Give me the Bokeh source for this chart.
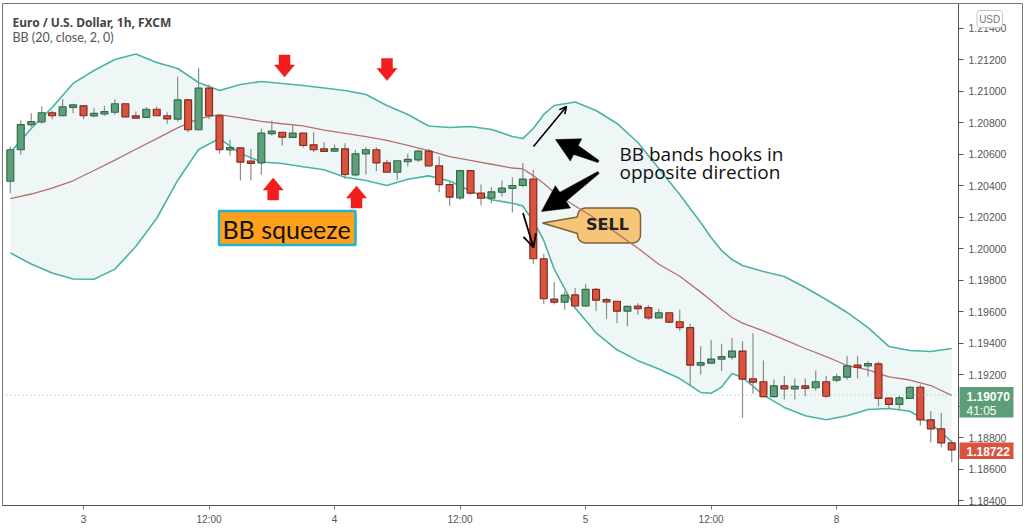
import numpy as np
from bokeh.plotting import figure
from bokeh.models import (Range1d, FixedTicker, PrintfTickFormatter, Label,
                          Arrow, OpenHead, ColumnDataSource)
from bokeh.embed import file_html
from bokeh.resources import INLINE

# ---------------- data (EUR/USD 1h candles) ----------------
opens = [1.20427, 1.20627, 1.20787, 1.20804, 1.20862, 1.20843, 1.20900, 1.20906, 1.20843, 1.20855,
         1.20865, 1.20919, 1.20838, 1.20832, 1.20884, 1.20843, 1.20821, 1.20944, 1.20754, 1.21018,
         1.20843, 1.20627, 1.20639, 1.20552, 1.20544, 1.20732, 1.20738, 1.20705, 1.20732, 1.20658,
         1.20627, 1.20622, 1.20633, 1.20468, 1.20601, 1.20627, 1.20544, 1.20484, 1.20554, 1.20563,
         1.20618, 1.20525, 1.20406, 1.20322, 1.20495, 1.20351, 1.20319, 1.20357, 1.20381, 1.20400,
         1.20440, 1.19935, 1.19678, 1.19659, 1.19705, 1.19635, 1.19740, 1.19672, 1.19665, 1.19602,
         1.19632, 1.19624, 1.19560, 1.19592, 1.19535, 1.19497, 1.19259, 1.19272, 1.19298, 1.19310,
         1.19349, 1.19173, 1.19154, 1.19060, 1.19128, 1.19109, 1.19124, 1.19116, 1.19154, 1.19164,
         1.19183, 1.19255, 1.19255, 1.19268, 1.19050, 1.19010, 1.19048, 1.19119, 1.18912, 1.18855,
         1.18766]
highs = [1.20648, 1.20813, 1.20859, 1.20902, 1.20876, 1.20950, 1.20919, 1.20908, 1.20893, 1.20906,
         1.20948, 1.20923, 1.20870, 1.20897, 1.20902, 1.20865, 1.21092, 1.20950, 1.21147, 1.21041,
         1.20855, 1.20690, 1.20641, 1.20633, 1.20760, 1.20813, 1.20740, 1.20785, 1.20734, 1.20738,
         1.20675, 1.20660, 1.20669, 1.20627, 1.20643, 1.20643, 1.20563, 1.20559, 1.20601, 1.20627,
         1.20633, 1.20584, 1.20421, 1.20497, 1.20497, 1.20406, 1.20389, 1.20432, 1.20453, 1.20542,
         1.20500, 1.19966, 1.19787, 1.19729, 1.19750, 1.19776, 1.19750, 1.19687, 1.19667, 1.19638,
         1.19653, 1.19640, 1.19617, 1.19594, 1.19611, 1.19522, 1.19380, 1.19419, 1.19395, 1.19432,
         1.19411, 1.19462, 1.19289, 1.19168, 1.19192, 1.19175, 1.19175, 1.19225, 1.19192, 1.19204,
         1.19319, 1.19319, 1.19284, 1.19283, 1.19056, 1.19067, 1.19127, 1.19137, 1.18967, 1.18957,
         1.18781]
lows = [1.20351, 1.20595, 1.20770, 1.20792, 1.20821, 1.20840, 1.20859, 1.20821, 1.20834, 1.20843,
        1.20849, 1.20834, 1.20830, 1.20830, 1.20841, 1.20792, 1.20806, 1.20738, 1.20750, 1.20821,
        1.20601, 1.20590, 1.20432, 1.20432, 1.20468, 1.20717, 1.20654, 1.20703, 1.20641, 1.20611,
        1.20620, 1.20611, 1.20443, 1.20457, 1.20470, 1.20491, 1.20482, 1.20436, 1.20521, 1.20550,
        1.20521, 1.20357, 1.20271, 1.20309, 1.20343, 1.20273, 1.20288, 1.20330, 1.20229, 1.20389,
        1.19903, 1.19649, 1.19644, 1.19611, 1.19629, 1.19629, 1.19603, 1.19554, 1.19526, 1.19507,
        1.19579, 1.19547, 1.19558, 1.19527, 1.19476, 1.19130, 1.19200, 1.19268, 1.19222, 1.19293,
        1.18925, 1.19077, 1.19056, 1.19056, 1.19041, 1.19041, 1.19062, 1.19098, 1.19052, 1.19151,
        1.19166, 1.19175, 1.19187, 1.18997, 1.18982, 1.18980, 1.19046, 1.18876, 1.18770, 1.18738,
        1.18643]
closes = [1.20627, 1.20787, 1.20806, 1.20862, 1.20843, 1.20900, 1.20908, 1.20843, 1.20857, 1.20868,
          1.20919, 1.20836, 1.20832, 1.20884, 1.20843, 1.20823, 1.20944, 1.20754, 1.21018, 1.20843,
          1.20627, 1.20639, 1.20548, 1.20544, 1.20732, 1.20743, 1.20707, 1.20732, 1.20654, 1.20627,
          1.20622, 1.20630, 1.20470, 1.20601, 1.20627, 1.20544, 1.20484, 1.20557, 1.20563, 1.20618,
          1.20525, 1.20406, 1.20326, 1.20495, 1.20351, 1.20319, 1.20360, 1.20383, 1.20400, 1.20440,
          1.19935, 1.19681, 1.19659, 1.19704, 1.19635, 1.19740, 1.19672, 1.19664, 1.19602, 1.19632,
          1.19621, 1.19559, 1.19592, 1.19532, 1.19497, 1.19259, 1.19276, 1.19298, 1.19313, 1.19349,
          1.19171, 1.19151, 1.19060, 1.19128, 1.19109, 1.19124, 1.19116, 1.19154, 1.19062, 1.19185,
          1.19255, 1.19249, 1.19268, 1.19048, 1.19010, 1.19052, 1.19119, 1.18912, 1.18855, 1.18766,
          1.18722]

# Bollinger Bands (20, close, 2) read at these candle positions
band_idx = [0, 2, 4, 6, 8, 10, 12, 14, 16, 18, 20, 22, 24, 26, 28, 30, 32, 34, 36, 38, 40, 42, 44, 46, 48,
            49, 50, 51, 52, 54, 56, 58, 60, 62, 64, 66, 67, 68, 69, 70, 72, 74, 76, 78, 80, 82, 84, 86, 88, 90]
bb_upper = [1.20610, 1.20762, 1.20895, 1.21048, 1.21130, 1.21200, 1.21235, 1.21181, 1.21143, 1.21054,
            1.21003, 1.21041, 1.21060, 1.21048, 1.21035, 1.21019, 1.21003, 1.20978, 1.20908, 1.20851,
            1.20778, 1.20768, 1.20775, 1.20756, 1.20711, 1.20698, 1.20762, 1.20851, 1.20908, 1.20930,
            1.20876, 1.20794, 1.20673, 1.20508, 1.20343, 1.20165, 1.20070, 1.19987, 1.19930, 1.19892,
            1.19854, 1.19822, 1.19752, 1.19676, 1.19594, 1.19498, 1.19378, 1.19352, 1.19346, 1.19365]
bb_mid = [1.20317, 1.20346, 1.20384, 1.20430, 1.20495, 1.20561, 1.20630, 1.20698, 1.20766, 1.20825,
          1.20850, 1.20830, 1.20807, 1.20792, 1.20778, 1.20751, 1.20731, 1.20710, 1.20686, 1.20655,
          1.20621, 1.20584, 1.20559, 1.20535, 1.20511, 1.20505, 1.20463, 1.20413, 1.20356, 1.20270,
          1.20187, 1.20096, 1.20002, 1.19900, 1.19824, 1.19723, 1.19670, 1.19615, 1.19562, 1.19526,
          1.19477, 1.19422, 1.19365, 1.19314, 1.19257, 1.19229, 1.19185, 1.19165, 1.19130, 1.19067]
bb_lower = [1.19972, 1.19902, 1.19844, 1.19806, 1.19805, 1.19869, 1.20013, 1.20192, 1.20432, 1.20629,
            1.20698, 1.20604, 1.20549, 1.20540, 1.20519, 1.20500, 1.20452, 1.20432, 1.20400, 1.20440,
            1.20461, 1.20428, 1.20365, 1.20310, 1.20287, 1.20270, 1.20173, 1.20051, 1.19869, 1.19622,
            1.19465, 1.19357, 1.19288, 1.19235, 1.19174, 1.19086, 1.19081, 1.19120, 1.19206, 1.19181,
            1.19069, 1.18991, 1.18938, 1.18913, 1.18938, 1.18978, 1.18984, 1.18967, 1.18888, 1.18773]

time_tick_idx = [7, 19, 31, 43, 55, 67, 79]
time_tick_labels = ["3", "12:00", "4", "12:00", "5", "12:00", "8"]
price_ticks = [1.184, 1.186, 1.188, 1.190, 1.192, 1.194, 1.196, 1.198, 1.200, 1.202,
               1.204, 1.206, 1.208, 1.210, 1.212, 1.214]
last_price = 1.18722
mark_price = 1.19070
countdown = "41:05"

# ---------------- layout helpers (pixel -> data, for annotations only) ----------------
PX0, DX = 9.8, 10.46          # page x of first candle, pixels per candle
PY0, PRICE0, PPY = 248.0, 1.2, 15750.0
FRAME_L, FRAME_T, FRAME_W, FRAME_H = 2, 3, 1020, 502
SCALE_X = 958                 # page x of the price-scale line


def X(px):
    return (px - PX0) / DX


def Y(py):
    return PRICE0 + (PY0 - py) / PPY


GREEN, GREEN_D = "#5f9f7a", "#2f6b4b"
RED, RED_D = "#d9533f", "#86291f"
TEAL = "#4ab3a6"
MID = "#b3716d"

p = figure(frame_width=FRAME_W, frame_height=FRAME_H,
           x_range=Range1d(X(FRAME_L), X(FRAME_L + FRAME_W)),
           y_range=Range1d(Y(FRAME_T + FRAME_H), Y(FRAME_T)),
           output_backend="svg", toolbar_location=None, y_axis_location="right",
           min_border_left=FRAME_L, min_border_top=FRAME_T, min_border_right=1, min_border_bottom=20,
           background_fill_color="white", border_fill_color="white",
           outline_line_color="#777777")
p.xgrid.visible = False
p.ygrid.visible = False

# price axis drawn at the price-scale line inside the frame
ya = p.yaxis[0]
ya.fixed_location = X(SCALE_X)
ya.ticker = FixedTicker(ticks=price_ticks)
ya.formatter = PrintfTickFormatter(format="%.5f")
ya.major_label_text_font = "Liberation Sans"
ya.major_label_text_font_size = "10.5px"
ya.major_label_text_color = "#555555"
ya.axis_line_color = "#555555"
ya.major_tick_line_color = "#555555"
ya.major_tick_in = 0
ya.major_tick_out = 5
ya.minor_tick_out = 0
ya.minor_tick_in = 0
ya.major_label_standoff = 5

xa = p.xaxis[0]
xa.ticker = FixedTicker(ticks=time_tick_idx)
xa.major_label_overrides = {t: s for t, s in zip(time_tick_idx, time_tick_labels)}
xa.major_label_text_font = "Liberation Sans"
xa.major_label_text_font_size = "10px"
xa.major_label_text_color = "#555555"
xa.axis_line_color = "#555555"
xa.major_tick_line_color = "#777777"
xa.major_tick_in = 0
xa.major_tick_out = 4
xa.minor_tick_out = 0
xa.minor_tick_in = 0
xa.major_label_standoff = 4


def rounded_poly(x0, y0, x1, y1, r, tail=None):
    """Rounded rectangle (pixel space) with optional left-side tail, returned in data space."""
    pts = []

    def arc(cx, cy, a0, a1):
        for a in np.linspace(np.radians(a0), np.radians(a1), 6):
            pts.append((cx + r * np.cos(a), cy + r * np.sin(a)))
    arc(x1 - r, y0 + r, -90, 0)
    arc(x1 - r, y1 - r, 0, 90)
    arc(x0 + r, y1 - r, 90, 180)
    if tail is not None:
        tt, tb, tip = tail
        pts.append((x0, tb))
        pts.append(tip)
        pts.append((x0, tt))
    arc(x0 + r, y0 + r, 180, 270)
    return [X(a) for a, b in pts], [Y(b) for a, b in pts]


# ---------------- bands ----------------
p.varea(x=band_idx, y1=bb_lower, y2=bb_upper, fill_color="#eef7f6")

cx_, cy_ = rounded_poly(577, 207.5, 640, 242.5, 8, (216.5, 233, (542, 222.5)))
p.patch(cx_, cy_, fill_color="#f7c577", line_color="#7d6238", line_width=1.5)

p.line(band_idx, bb_mid, line_color=MID, line_width=1.3)
p.line(band_idx, bb_upper, line_color=TEAL, line_width=1.6)
p.line(band_idx, bb_lower, line_color=TEAL, line_width=1.6)

# ---------------- candles ----------------
o = np.array(opens); c = np.array(closes)
hi = np.array(highs); lo = np.array(lows)
is_up = c >= o
btop = np.maximum(o, c); bbot = np.minimum(o, c)
min_h = 2.4 / PPY
small = (btop - bbot) < min_h
mid_b = (btop + bbot) / 2
btop = np.where(small, mid_b + min_h / 2, btop)
bbot = np.where(small, mid_b - min_h / 2, bbot)
src = ColumnDataSource(dict(
    x=list(range(len(opens))), top=btop, bottom=bbot, high=hi, low=lo,
    fill=[GREEN if u else RED for u in is_up],
    line=[GREEN_D if u else RED_D for u in is_up]))
p.segment(x0="x", y0="low", x1="x", y1="high", source=src, line_color="#8c8c8c", line_width=1.2)
p.vbar(x="x", width=0.66, top="top", bottom="bottom", fill_color="fill",
       line_color="line", line_width=1.2, source=src)

# dotted price line up to the price scale
p.segment(x0=[X(FRAME_L)], y0=[mark_price], x1=[X(SCALE_X)], y1=[mark_price],
          line_color="#8dbba2", line_dash="1 3", line_width=1.2)

# ---------------- annotations ----------------
def block_arrow(cx, tip_y, down, total=22, head=12, hw=10, sw=5.5):
    s = 1 if down else -1
    base = tip_y - s * head
    end = tip_y - s * total
    pts = [(cx - sw, end), (cx + sw, end), (cx + sw, base), (cx + hw, base),
           (cx, tip_y), (cx - hw, base), (cx - sw, base)]
    return [X(a) for a, b in pts], [Y(b) for a, b in pts]


arrows = [block_arrow(284, 76.5, True), block_arrow(386.5, 80, True),
          block_arrow(272.7, 177.5, False), block_arrow(356, 185.5, False)]
p.patches([a[0] for a in arrows], [a[1] for a in arrows], fill_color="#f21d1d", line_color="#f21d1d",
          line_width=0.5)


def wedge_arrow(tail, tip, lh, hw, ws1, ws0):
    t = np.array(tail, float); q = np.array(tip, float)
    u = (q - t) / np.linalg.norm(q - t)
    n = np.array([-u[1], u[0]])
    b = q - u * lh
    pts = [t + n * ws0, b + n * ws1, b + n * hw, q, b - n * hw, b - n * ws1, t - n * ws0]
    return [X(pt[0]) for pt in pts], [Y(pt[1]) for pt in pts]


w1 = wedge_arrow((598, 161), (555, 139), 23, 12.5, 5, 1.2)
w2 = wedge_arrow((598, 172), (541, 211), 26, 13.5, 5.5, 1.2)
p.patches([w1[0], w2[0]], [w1[1], w2[1]], fill_color="black", line_color="black", line_width=0.5)

p.add_layout(Arrow(end=OpenHead(size=7, line_width=1.6, line_color="black"),
                   x_start=X(533), y_start=Y(146), x_end=X(566), y_end=Y(106),
                   line_width=1.6, line_color="black"))
p.add_layout(Arrow(end=OpenHead(size=13, line_width=1.8, line_color="black"),
                   x_start=X(522.5), y_start=Y(212.5), x_end=X(533), y_end=Y(247),
                   line_width=1.8, line_color="black"))

# BB squeeze box
p.quad(left=X(218.5), right=X(355), top=Y(210.5), bottom=Y(244.5),
       fill_color="#ffa11a", line_color="#1eb4d6", line_width=2.5)
p.add_layout(Label(x=X(286), y=Y(228), text="BB squeeze", text_align="center",
                   text_baseline="middle", text_font="Lato", text_font_size="25px",
                   text_color="#111111"))

p.add_layout(Label(x=X(607), y=Y(224), text="SELL", text_align="center", text_baseline="middle",
                   text_font="DejaVu Sans", text_font_style="bold", text_font_size="16px",
                   text_color="#222222"))

p.add_layout(Label(x=X(619), y=Y(153), text="BB bands hooks in", text_align="left",
                   text_baseline="middle", text_font="Open Sans", text_font_size="19px",
                   text_color="#111111"))
p.add_layout(Label(x=X(619), y=Y(171), text="opposite direction", text_align="left",
                   text_baseline="middle", text_font="Open Sans", text_font_size="19px",
                   text_color="#111111"))

# header
p.add_layout(Label(x=X(12), y=Y(21.5), text="Euro / U.S. Dollar, 1h, FXCM", text_align="left",
                   text_baseline="middle", text_font="Noto Sans", text_font_style="bold",
                   text_font_size="12px", text_color="#444444"))
p.add_layout(Label(x=X(12), y=Y(36.5), text="BB (20, close, 2, 0)", text_align="left",
                   text_baseline="middle", text_font="Lato", text_font_size="12.5px",
                   text_color="#555555"))

# ---------------- price-scale tags (drawn above the axis labels) ----------------
p.quad(left=[X(SCALE_X + 1), X(SCALE_X + 1)], right=[X(1013), X(1013)],
       top=[Y(386.5), Y(442)], bottom=[Y(417), Y(458.5)],
       fill_color=["#5c9e78", "#d9533f"], line_color=None, level="overlay")
ux, uy = rounded_poly(976.5, 10, 1002, 27, 3)
p.patch(ux, uy, fill_color="white", line_color="#c4c4c4", line_width=1, level="overlay")

p.add_layout(Label(x=X(966), y=Y(396), text="1.19070", text_align="left",
                   text_baseline="middle", text_font="Liberation Sans", text_font_style="bold",
                   text_font_size="12px", text_color="white", level="overlay"))
p.add_layout(Label(x=X(966), y=Y(410), text=countdown, text_align="left",
                   text_baseline="middle", text_font="Liberation Sans",
                   text_font_size="12px", text_color="white", level="overlay"))
p.add_layout(Label(x=X(966), y=Y(450.5), text="1.18722", text_align="left",
                   text_baseline="middle", text_font="Liberation Sans", text_font_style="bold",
                   text_font_size="12px", text_color="white", level="overlay"))
p.add_layout(Label(x=X(989.2), y=Y(18.8), text="USD", text_align="center", text_baseline="middle",
                   text_font="Liberation Sans", text_font_size="10px", text_color="#777777",
                   level="overlay"))

open("out.html", "w").write(file_html(p, INLINE))
